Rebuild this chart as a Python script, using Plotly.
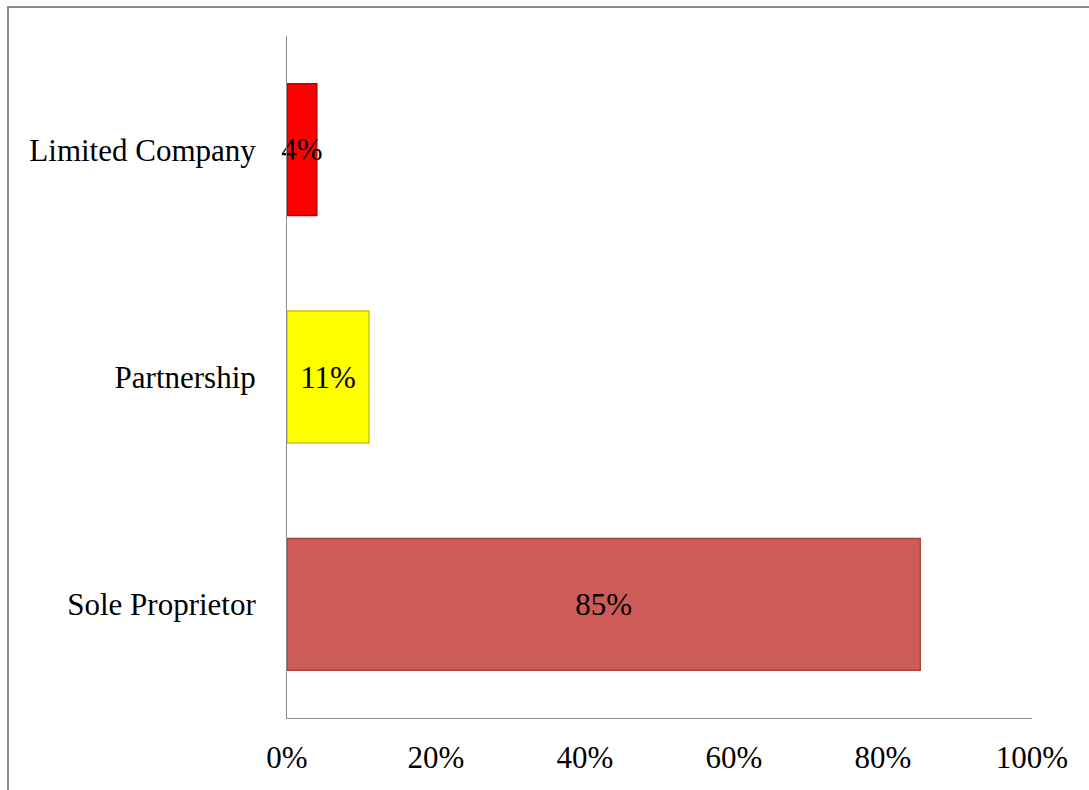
import plotly.graph_objects as go

categories = ["Sole Proprietor", "Partnership", "Limited Company"]
values = [0.85, 0.11, 0.04]
labels = ["85%", "11%", "4%"]
bar_colors = ["#CD5B58", "#FFFF00", "#FF0000"]
edge_colors = ["#A84440", "#C8C800", "#C80000"]
x_ticks = [0, 0.2, 0.4, 0.6, 0.8, 1.0]
x_tick_text = ["0%", "20%", "40%", "60%", "80%", "100%"]

FONT = "Liberation Serif, Times New Roman, serif"
FS = 31

fig = go.Figure(go.Bar(
    y=categories,
    x=values,
    orientation="h",
    width=0.58,
    marker=dict(color=bar_colors, line=dict(color=edge_colors, width=1.5)),
    text=labels,
    textposition="inside",
    insidetextanchor="middle",
    constraintext="none",
    textangle=0,
    cliponaxis=False,
    textfont=dict(family=FONT, size=FS, color="black"),
))

L, R, T, B = 287, 57, 36, 72
W, H = 1089, 790
pw, ph = W - L - R, H - T - B

fig.update_layout(
    width=W, height=H,
    margin=dict(l=L, r=R, t=T, b=B, pad=0),
    paper_bgcolor="white",
    plot_bgcolor="white",
    showlegend=False,
    font=dict(family=FONT, size=FS, color="black"),
    xaxis=dict(
        range=[0, 1],
        tickvals=x_ticks,
        ticktext=x_tick_text,
        showgrid=False,
        zeroline=False,
        showline=True,
        linecolor="#8C8C8C",
        linewidth=1,
        ticks="outside",
        ticklen=12,
        tickcolor="rgba(0,0,0,0)",
        tickfont=dict(family=FONT, size=FS, color="black"),
        fixedrange=True,
    ),
    yaxis=dict(
        categoryorder="array",
        categoryarray=categories,
        showgrid=False,
        zeroline=False,
        showline=True,
        linecolor="#8C8C8C",
        linewidth=1,
        ticks="outside",
        ticklen=24,
        tickcolor="rgba(0,0,0,0)",
        tickfont=dict(family=FONT, size=FS, color="black"),
        fixedrange=True,
    ),
    shapes=[dict(
        type="rect", xref="paper", yref="paper",
        x0=(8 - L) / pw, x1=(W + 20 - L) / pw,
        y0=-(B + 20) / ph, y1=(H - 7 - B) / ph,
        line=dict(color="#8C8C8C", width=2),
        fillcolor="rgba(0,0,0,0)",
        layer="below",
    )],
)

fig.write_html("out.html")
